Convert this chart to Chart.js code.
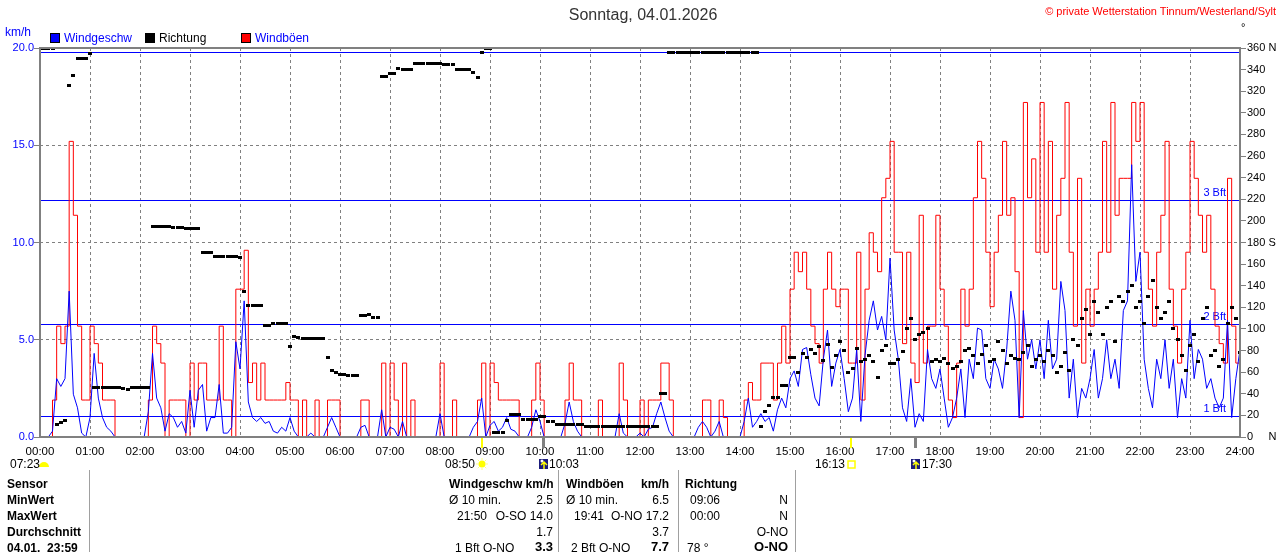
<!DOCTYPE html>
<html>
<head>
<meta charset="utf-8">
<script src="https://cdn.jsdelivr.net/npm/chart.js@4.4.1/dist/chart.umd.min.js"></script>
<style>
  html, body { margin: 0; padding: 0; background: #fff; }
  #wrap { position: relative; width: 1280px; height: 552px; overflow: hidden; font-family: "Liberation Sans", Arial, sans-serif; color: #000; }
  #wrap canvas { position: absolute; left: 0; top: 0; }
  .t { position: absolute; white-space: pre; font-size: 12px; line-height: 14px; }
  .r { text-align: right; }
  .b { font-weight: bold; }
  .sep { position: absolute; top: 470px; width: 1px; height: 82px; background: #a0a0a0; }
  .box { position: absolute; top: 33px; width: 10px; height: 10px; border: 1px solid #000; box-sizing: border-box; }
</style>
</head>
<body>
<div id="wrap">
  <canvas id="chart" width="1280" height="470"></canvas>

  <div class="t" style="left:0;width:1286px;text-align:center;top:6px;font-size:16px;line-height:18px;color:#333">Sonntag, 04.01.2026</div>
  <div class="t r" style="right:4px;top:5px;font-size:11px;line-height:13px;color:#ff0000">© private Wetterstation Tinnum/Westerland/Sylt</div>
  <div class="t" style="left:1241px;top:21px;font-size:11px;line-height:13px">°</div>

  <div class="t" style="left:5px;top:25px;color:#0000ff">km/h</div>
  <div class="box" style="left:50px;background:#0000ff"></div>
  <div class="t" style="left:64px;top:31px;color:#0000ff">Windgeschw</div>
  <div class="box" style="left:145px;background:#000"></div>
  <div class="t" style="left:159px;top:31px">Richtung</div>
  <div class="box" style="left:241px;background:#ff0000"></div>
  <div class="t" style="left:255px;top:31px;color:#0000ff">Windböen</div>

  <div class="t" style="left:10px;top:457px">07:23</div>
  <div class="t r" style="right:805px;top:457px">08:50</div>
  <div class="t" style="left:549px;top:457px">10:03</div>
  <div class="t r" style="right:435px;top:457px">16:13</div>
  <div class="t" style="left:922px;top:457px">17:30</div>

  <div class="sep" style="left:89px"></div>
  <div class="sep" style="left:558px"></div>
  <div class="sep" style="left:678px"></div>
  <div class="sep" style="left:795px"></div>

  <div class="t b" style="left:7px;top:477px">Sensor</div>
  <div class="t b" style="left:449px;top:477px">Windgeschw km/h</div>
  <div class="t b" style="left:566px;top:477px">Windböen</div>
  <div class="t b r" style="right:611px;top:477px">km/h</div>
  <div class="t b" style="left:685px;top:477px">Richtung</div>

  <div class="t b" style="left:7px;top:493px">MinWert</div>
  <div class="t" style="left:449px;top:493px">Ø 10 min.</div>
  <div class="t r" style="right:727px;top:493px">2.5</div>
  <div class="t" style="left:566px;top:493px">Ø 10 min.</div>
  <div class="t r" style="right:611px;top:493px">6.5</div>
  <div class="t" style="left:690px;top:493px">09:06</div>
  <div class="t r" style="right:492px;top:493px">N</div>

  <div class="t b" style="left:7px;top:509px">MaxWert</div>
  <div class="t" style="left:457px;top:509px">21:50</div>
  <div class="t r" style="right:727px;top:509px">O-SO 14.0</div>
  <div class="t" style="left:574px;top:509px">19:41</div>
  <div class="t r" style="right:611px;top:509px">O-NO 17.2</div>
  <div class="t" style="left:690px;top:509px">00:00</div>
  <div class="t r" style="right:492px;top:509px">N</div>

  <div class="t b" style="left:7px;top:525px">Durchschnitt</div>
  <div class="t r" style="right:727px;top:525px">1.7</div>
  <div class="t r" style="right:611px;top:525px">3.7</div>
  <div class="t r" style="right:492px;top:525px">O-NO</div>

  <div class="t b" style="left:7px;top:541px">04.01.  23:59</div>
  <div class="t" style="left:455px;top:541px">1 Bft O-NO</div>
  <div class="t b r" style="right:727px;top:540px;font-size:13px">3.3</div>
  <div class="t" style="left:571px;top:541px">2 Bft O-NO</div>
  <div class="t b r" style="right:611px;top:540px;font-size:13px">7.7</div>
  <div class="t" style="left:687px;top:541px">78 °</div>
  <div class="t b r" style="right:492px;top:540px;font-size:13px">O-NO</div>
</div>

<script>
// one value every 5 minutes, 00:00 .. 24:00
const stepMinutes = 5;

// Windgeschwindigkeit km/h (one row = one hour)
const windSpeed = [
  0, 0, 0, 0.3, 3.0, 2.6, 3.0, 7.5, 2.2, 1.5, 0.2, 0,
  1.0, 4.3, 2.0, 1.0, 0.5, 0.3, 0, 0, 0, 0, 0, 0,
  0, 0, 1.3, 4.3, 2.0, 1.5, 0.3, 1.2, 1.0, 0.5, 0.8, 0.2,
  2.4, 0.5, 2.4, 2.7, 0.3, 1.0, 1.0, 2.7, 0.2, 0.2, 0.5, 4.9,
  3.5, 7.0, 1.8, 1.0, 0.8, 1.0, 0.7, 0.8, 0.3, 0.2, 0.5, 0.3,
  1.0, 0.3, 0, 0, 0, 0.2, 0, 0, 0, 0.5, 1.0, 0.5,
  0, 0, 0, 0, 0, 0.5, 0.6, 0, 0, 0, 1.4, 0,
  0.5, 0.4, 0, 0.8, 0, 0, 0, 0, 0, 0, 0, 0,
  1.2, 0, 0, 0, 0, 0, 0, 0, 0.5, 0.8, 2.0, 0,
  0.6, 0.8, 0.3, 0.5, 1.0, 0.4, 0.3, 0, 0, 0, 0.5, 1.4,
  0.8, 0, 0, 0, 0, 0, 0.7, 1.8, 0.8, 0.3, 0, 0,
  0, 0, 0, 0, 0, 0, 0, 1.2, 0.2, 0, 0, 0,
  0.2, 0, 0.4, 0.5, 1.2, 1.8, 1.0, 0.3, 0, 0, 0, 0,
  0, 0, 0.5, 0.8, 0.5, 0, 0.3, 0.8, 0, 0, 0, 0,
  0, 0.8, 2.0, 0.5, 0.8, 1.2, 0.8, 1.0, 0.3, 1.4, 2.0, 1.5,
  3.0, 3.4, 2.6, 4.5, 4.6, 3.2, 2.0, 1.6, 4.0, 5.5, 2.6, 3.8,
  4.5, 3.0, 1.3, 2.0, 4.5, 0.8, 4.2, 6.0, 7.0, 5.5, 6.2, 5.0,
  9.2, 5.5, 4.0, 1.5, 0.8, 3.0, 0.5, 1.2, 0.8, 4.5, 3.0, 2.5,
  3.5, 2.0, 0.5, 1.0, 2.0, 3.5, 1.0, 4.0, 3.0, 5.6, 5.5, 3.0,
  2.5, 4.0, 3.5, 2.5, 4.5, 7.5, 6.0, 1.0, 6.5, 4.0, 5.0, 3.5,
  5.0, 3.0, 6.0, 3.5, 4.0, 8.0, 6.5, 2.0, 4.0, 1.0, 2.5, 2.0,
  3.0, 4.5, 2.0, 3.0, 5.0, 3.0, 4.0, 2.5, 6.5, 7.0, 14.0, 8.0,
  9.5, 4.0, 2.5, 1.5, 4.0, 3.0, 5.0, 2.5, 4.0, 1.0, 3.0, 2.0,
  6.0, 3.0, 4.5, 4.0, 2.5, 3.0, 2.0, 1.5, 2.0, 6.0, 1.0, 3.0,
  4.5
];

// Windböen km/h
const windGusts = [
  0, 0, 0, 1.9, 5.7, 4.8, 5.7, 15.2, 11.4, 5.7, 1.9, 1.9,
  5.7, 4.8, 3.8, 1.9, 1.9, 1.9, 0, 0, 0, 0, 0, 0,
  0, 0, 1.9, 5.7, 4.8, 3.8, 0, 1.9, 1.9, 1.9, 1.9, 0,
  3.8, 1.9, 3.8, 3.8, 1.9, 1.9, 1.9, 5.7, 1.9, 1.9, 0, 7.6,
  7.6, 9.6, 2.8, 3.8, 1.9, 3.8, 1.9, 1.9, 1.9, 1.9, 1.9, 2.8,
  1.9, 1.9, 0, 1.9, 0, 0, 1.9, 0, 0, 1.9, 1.9, 1.9,
  0, 0, 0, 0, 0, 1.9, 1.9, 0, 0, 0, 3.8, 0,
  3.8, 1.9, 0, 3.8, 0, 1.9, 0, 0, 0, 0, 0, 0,
  3.8, 0, 0, 1.9, 0, 0, 0, 0, 0, 1.9, 3.8, 0,
  3.8, 2.8, 1.9, 1.9, 1.9, 1.9, 1.9, 0, 0, 0, 1.9, 3.8,
  1.9, 0, 0, 0, 0, 0, 1.9, 3.8, 1.9, 1.9, 0, 0,
  0, 0, 1.9, 0, 0, 0, 0, 3.8, 1.9, 0, 0, 0,
  1.9, 0, 1.9, 1.9, 1.9, 3.8, 3.8, 1.9, 0, 0, 0, 0,
  0, 0, 0, 1.9, 1.9, 0, 0, 1.9, 1.0, 0, 0, 0,
  0, 1.9, 2.8, 1.9, 1.9, 3.8, 3.8, 3.8, 1.9, 3.8, 5.7, 3.8,
  7.6, 9.5, 8.5, 9.5, 7.6, 5.7, 4.8, 3.8, 7.6, 9.5, 7.6, 6.7,
  7.6, 7.6, 3.8, 3.8, 9.5, 1.9, 7.6, 10.5, 9.5, 8.5, 12.3, 13.3,
  15.2, 9.5, 9.5, 4.8, 9.5, 3.8, 2.8, 11.4, 3.8, 5.7, 5.7, 11.4,
  7.6, 5.7, 1.9, 1.0, 3.8, 7.6, 5.7, 7.6, 12.3, 15.2, 13.3, 9.5,
  6.7, 9.5, 11.4, 15.2, 11.4, 12.3, 8.5, 1.0, 17.2, 12.3, 14.3, 9.5,
  17.2, 9.5, 15.2, 7.6, 11.4, 13.3, 17.2, 9.5, 5.7, 13.3, 3.8, 7.6,
  5.7, 7.6, 9.5, 15.2, 9.5, 17.2, 11.4, 13.3, 13.3, 13.3, 17.2, 15.2,
  17.2, 9.5, 7.6, 5.7, 9.5, 11.4, 15.2, 7.6, 5.7, 3.8, 7.6, 9.5,
  15.2, 13.3, 11.4, 9.5, 11.4, 7.6, 5.7, 4.8, 3.8, 13.3, 5.7, 3.8,
  9.5
];

// Windrichtung in Grad
const windDir = [
  360, 360, 360, 360, 12, 13, 15, 325, 335, 350, 350, 350,
  355, 46, 46, 46, 46, 46, 46, 46, 45, 44, 46, 46,
  46, 46, 46, 195, 195, 195, 195, 195, 194, 194, 194, 193,
  193, 193, 193, 171, 171, 171, 167, 167, 167, 167, 167, 167,
  166, 135, 122, 122, 122, 122, 103, 103, 105, 105, 105, 105,
  84, 93, 92, 91, 91, 91, 91, 91, 91, 74, 62, 60,
  58, 58, 57, 57, 57, 112, 112, 113, 111, 111, 334, 334,
  336, 336, 341, 340, 340, 340, 346, 346, 346, 346, 346, 346,
  346, 345, 345, 345, 340, 340, 340, 340, 337, 333, 356, 360,
  360, 4, 4, 4, 15, 21, 21, 21, 16, 16, 16, 16,
  19, 19, 14, 14, 12, 12, 12, 12, 12, 12, 12, 10,
  10, 10, 10, 10, 10, 10, 10, 10, 10, 10, 10, 10,
  10, 10, 10, 10, 10, 40, 40, 356, 356, 356, 356, 356,
  356, 356, 356, 356, 356, 356, 356, 356, 356, 356, 356, 356,
  356, 356, 356, 356, 356, 10, 24, 29, 37, 37, 48, 48,
  74, 74, 60, 77, 74, 81, 77, 84, 71, 86, 64, 75,
  88, 80, 60, 63, 82, 70, 72, 75, 70, 55, 80, 85,
  68, 68, 72, 79, 100, 110, 90, 95, 97, 100, 70, 72,
  70, 73, 68, 63, 65, 70, 80, 82, 75, 68, 76, 85,
  70, 72, 88, 80, 68, 75, 73, 72, 78, 85, 65, 72,
  75, 70, 80, 75, 60, 65, 78, 62, 90, 85, 110, 118,
  95, 125, 115, 95, 120, 125, 88, 130, 125, 135, 140, 120,
  125, 105, 130, 145, 120, 110, 115, 125, 100, 90, 75, 62,
  85, 95, 70, 110, 120, 75, 80, 65, 72, 105, 120, 110,
  78
];

// Beaufort-Grenzen km/h
const bftLimits = [1.1, 5.8, 12.2, 19.8];
const bftNames = ['1 Bft', '2 Bft', '3 Bft', ''];

// Sonne / Mond (Minuten seit 00:00)
const eventTimes = [530, 603, 973, 1050];
const eventKinds = ['sun', 'moon', 'sunOpen', 'moon'];

const toPoints = arr => arr.map((v, i) => ({ x: i * stepMinutes, y: v }));

// small black mark used for the direction
const dirMark = document.createElement('canvas');
dirMark.width = 4;
dirMark.height = 3;
const mctx = dirMark.getContext('2d');
mctx.fillStyle = '#000';
mctx.fillRect(0, 0, 4, 3);

function drawIcon(ctx, kind, x, y) {
    ctx.save();
    if (kind === 'sun') {
        ctx.strokeStyle = '#ffff80';
        ctx.lineWidth = 1;
        for (let k = 0; k < 8; k++) {
            const a = k * Math.PI / 4;
            ctx.beginPath();
            ctx.moveTo(x + Math.cos(a) * 4, y + Math.sin(a) * 4);
            ctx.lineTo(x + Math.cos(a) * 6, y + Math.sin(a) * 6);
            ctx.stroke();
        }
        ctx.fillStyle = '#ffff00';
        ctx.beginPath();
        ctx.arc(x, y, 3.5, 0, Math.PI * 2);
        ctx.fill();
    } else if (kind === 'sunOpen') {
        ctx.strokeStyle = '#ffff00';
        ctx.lineWidth = 1.5;
        ctx.strokeRect(x - 3, y - 3, 7, 7);
    } else if (kind === 'moon') {
        ctx.fillStyle = '#1c1c7c';
        ctx.fillRect(x - 4, y - 5, 9, 10);
        ctx.fillStyle = '#ffffff';
        ctx.beginPath();
        ctx.arc(x - 1, y - 3, 1.5, 0, Math.PI * 2);
        ctx.fill();
        ctx.strokeStyle = '#ffff00';
        ctx.lineWidth = 1.5;
        ctx.beginPath();
        ctx.moveTo(x + 1, y + 5);
        ctx.lineTo(x + 1, y - 2);
        ctx.moveTo(x - 2, y + 1);
        ctx.lineTo(x + 1, y - 2);
        ctx.lineTo(x + 4, y + 1);
        ctx.stroke();
    } else if (kind === 'rise') {
        ctx.fillStyle = '#ffff00';
        ctx.beginPath();
        ctx.arc(x, y + 3, 5, Math.PI, Math.PI * 2);
        ctx.fill();
    }
    ctx.restore();
}

// Beaufort lines under the data, grey frame on top
const frameAndLines = {
    id: 'frameAndLines',
    beforeDatasetsDraw(chart) {
        const { ctx, chartArea: a, scales: { y } } = chart;
        ctx.save();
        ctx.strokeStyle = '#0000ff';
        ctx.lineWidth = 1;
        ctx.fillStyle = '#0000ff';
        ctx.font = '11px "Liberation Sans", Arial, sans-serif';
        ctx.textAlign = 'right';
        ctx.textBaseline = 'bottom';
        bftLimits.forEach((v, i) => {
            const py = Math.round(y.getPixelForValue(v)) + 0.5;
            ctx.beginPath();
            ctx.moveTo(a.left, py);
            ctx.lineTo(a.right, py);
            ctx.stroke();
            if (bftNames[i]) ctx.fillText(bftNames[i], a.right - 14, py - 2);
        });
        ctx.restore();
    },
    afterDatasetsDraw(chart) {
        const { ctx, chartArea: a } = chart;
        ctx.save();
        ctx.strokeStyle = '#808080';
        ctx.lineWidth = 2;
        ctx.strokeRect(a.left, a.top, a.right - a.left, a.bottom - a.top);
        ctx.restore();
    }
};

// sun and moon marks below the time axis
const sunMoon = {
    id: 'sunMoon',
    afterDraw(chart) {
        const { ctx, chartArea: a, scales: { x } } = chart;
        ctx.save();
        eventTimes.forEach((t, i) => {
            const px = Math.round(x.getPixelForValue(t));
            const moon = eventKinds[i] === 'moon';
            ctx.fillStyle = moon ? '#808080' : '#ffff00';
            ctx.fillRect(px - 1, a.bottom + 1, moon ? 3 : 2, 10);
            drawIcon(ctx, eventKinds[i], px, 464);
        });
        drawIcon(ctx, 'rise', a.left + 4, 464);
        ctx.restore();
    }
};

const dirLabel = v => {
    if (v === 0) return '0     N';
    if (v === 180) return '180 S';
    if (v === 360) return '360 N';
    return String(v);
};

Chart.defaults.font.family = '"Liberation Sans", Arial, sans-serif';
Chart.defaults.font.size = 11;

new Chart(document.getElementById('chart'), {
    type: 'line',
    data: {
        datasets: [
            {
                label: 'Richtung', data: toPoints(windDir), yAxisID: 'yDir',
                showLine: false, pointStyle: dirMark, pointRadius: 2, pointHoverRadius: 2, order: 0
            },
            {
                label: 'Windgeschw', data: toPoints(windSpeed), yAxisID: 'y',
                borderColor: '#0000ff', borderWidth: 1, pointRadius: 0, tension: 0, order: 1
            },
            {
                label: 'Windböen', data: toPoints(windGusts), yAxisID: 'y',
                borderColor: '#ff0000', borderWidth: 1, pointRadius: 0, stepped: true, order: 2
            }
        ]
    },
    options: {
        responsive: false,
        animation: false,
        devicePixelRatio: 1,
        events: [],
        layout: { padding: { top: 48, left: 0, right: 0, bottom: 0 } },
        plugins: { legend: { display: false }, tooltip: { enabled: false } },
        scales: {
            x: {
                type: 'linear', min: 0, max: 1440,
                afterFit: s => { s.height = 33; },
                ticks: {
                    stepSize: 60, autoSkip: false, maxRotation: 0, padding: 8, color: '#000',
                    font: { size: 11.5 },
                    callback: v => String(v / 60).padStart(2, '0') + ':00'
                },
                grid: { color: '#808080', lineWidth: 1, drawTicks: false },
                border: { display: false, dash: [3, 3] }
            },
            y: {
                position: 'left', min: 0, max: 20,
                afterFit: s => { s.width = 40; },
                ticks: { stepSize: 5, color: '#0000ff', padding: 0, callback: v => v.toFixed(1) },
                grid: { color: '#808080', lineWidth: 1, tickLength: 6, tickColor: '#808080' },
                border: { display: false, dash: [3, 3] }
            },
            yDir: {
                position: 'right', min: 0, max: 360,
                afterFit: s => { s.width = 40; },
                ticks: { stepSize: 20, autoSkip: false, color: '#000', padding: 1, callback: dirLabel },
                grid: { drawOnChartArea: false, tickLength: 6, tickColor: '#808080' },
                border: { display: false }
            }
        }
    },
    plugins: [frameAndLines, sunMoon]
});
</script>
</body>
</html>
